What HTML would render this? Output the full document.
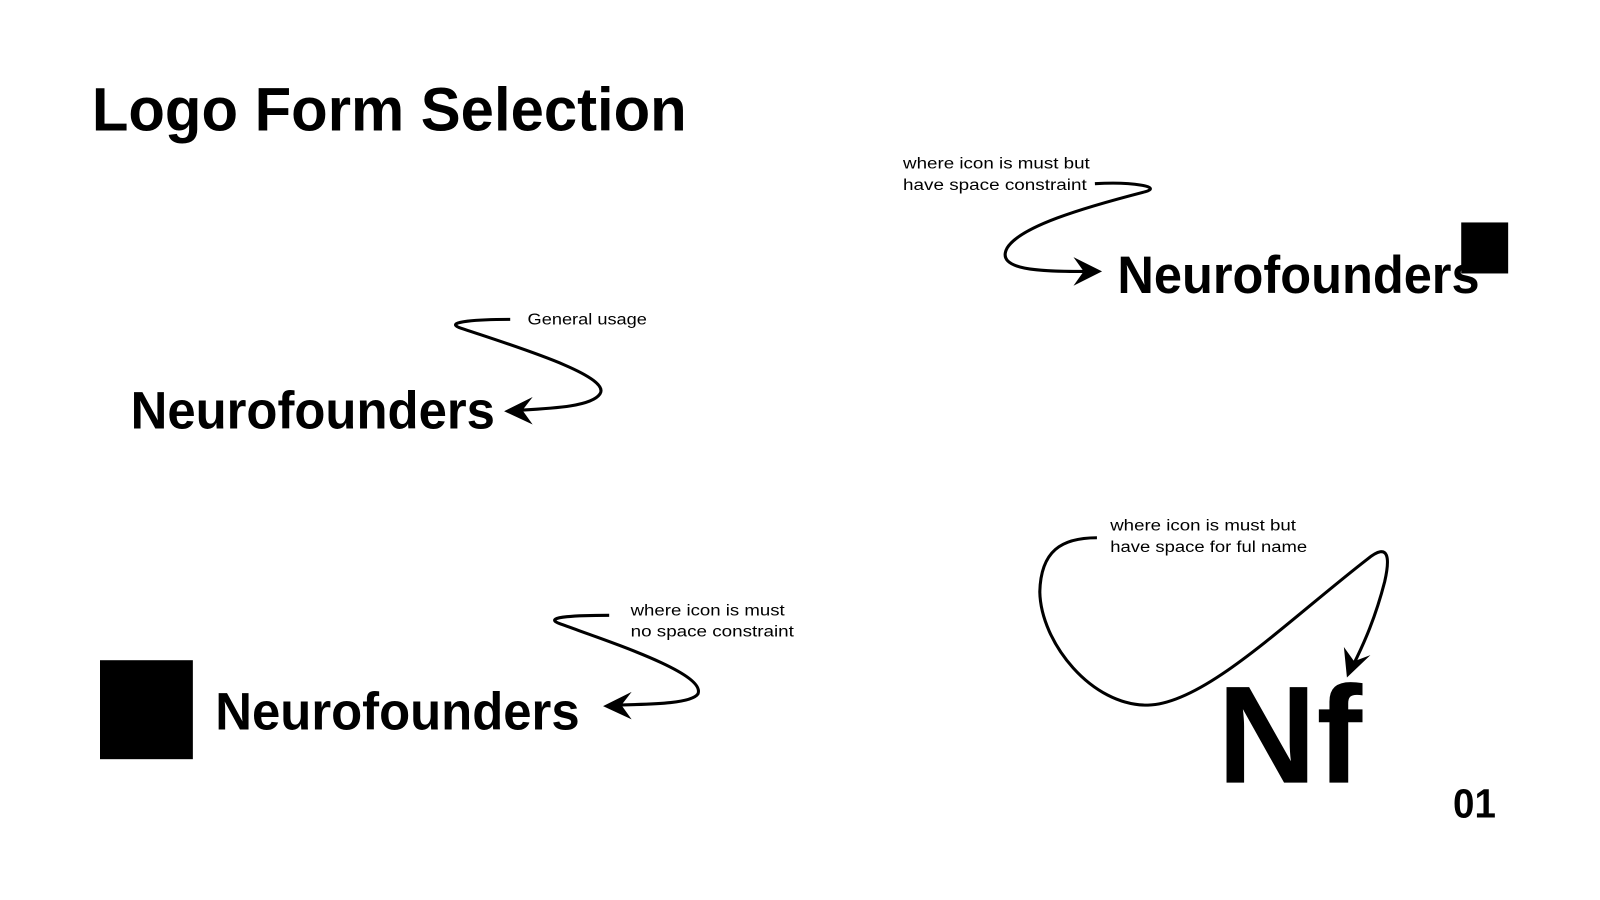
<!DOCTYPE html>
<html><head><meta charset="utf-8"><style>
html,body{margin:0;padding:0;background:#fff;width:1600px;height:900px;overflow:hidden}
svg{display:block}
text{font-family:"Liberation Sans",Arial,sans-serif;fill:#000}
.b{font-weight:bold}
.s{font-size:15px}
</style></head><body>
<svg width="1600" height="900" viewBox="0 0 1568 882" xmlns="http://www.w3.org/2000/svg">
<text class="b" x="90" y="128" font-size="60" textLength="583" lengthAdjust="spacingAndGlyphs">Logo Form Selection</text>

<text class="s" x="885" y="165" textLength="183" lengthAdjust="spacingAndGlyphs">where icon is must but</text>
<text class="s" x="885" y="186" textLength="180" lengthAdjust="spacingAndGlyphs">have space constraint</text>
<path d="M1073,180 C1110,178 1140,183 1122,188 C1060,204 1000,222 987,243 C975,265 1020,266 1062,266" fill="none" stroke="#000" stroke-width="3"/>
<path d="M1080,266 L1052,252 L1062,266 L1052,280 Z" fill="#000"/>
<text class="b" x="1095" y="287" font-size="52" textLength="355" lengthAdjust="spacingAndGlyphs">Neurofounders</text>
<rect x="1432" y="218" width="46" height="50" fill="#000"/>

<text class="s" x="517" y="318" textLength="117" lengthAdjust="spacingAndGlyphs">General usage</text>
<path d="M500,313 C470,313 435,315 450,321 C500,338 600,368 588,386 C580,398 545,400 510,402" fill="none" stroke="#000" stroke-width="3"/>
<path d="M494,403 L522,389 L512,402 L522,416 Z" fill="#000"/>
<text class="b" x="128" y="420" font-size="52" textLength="357" lengthAdjust="spacingAndGlyphs">Neurofounders</text>

<text class="s" x="618" y="603" textLength="151" lengthAdjust="spacingAndGlyphs">where icon is must</text>
<text class="s" x="618" y="624" textLength="160" lengthAdjust="spacingAndGlyphs">no space constraint</text>
<path d="M597,603 C570,603 530,604 548,611 C600,630 692,660 684,680 C678,689 645,690 605,691" fill="none" stroke="#000" stroke-width="3"/>
<path d="M591,692 L619,678 L609,691 L619,705 Z" fill="#000"/>
<rect x="98" y="647" width="91" height="97" fill="#000"/>
<text class="b" x="211" y="715" font-size="52" textLength="357" lengthAdjust="spacingAndGlyphs">Neurofounders</text>

<text class="s" x="1088" y="520" textLength="182" lengthAdjust="spacingAndGlyphs">where icon is must but</text>
<text class="s" x="1088" y="541" textLength="193" lengthAdjust="spacingAndGlyphs">have space for ful name</text>
<path d="M1075,527 C1040,527 1020,540 1019,580 C1020,630 1070,692 1125,691 C1180,690 1260,610 1340,548 C1362,530 1362,548 1357,570 C1348,605 1337,630 1326,652" fill="none" stroke="#000" stroke-width="3"/>
<path d="M1320,664 L1317,634 L1327,648 L1343,642 Z" fill="#000"/>
<text class="b" x="1193" y="767" font-size="136" textLength="142" lengthAdjust="spacingAndGlyphs">Nf</text>
<text class="b" x="1424" y="801" font-size="40" textLength="42" lengthAdjust="spacingAndGlyphs">01</text>
</svg>
</body></html>
